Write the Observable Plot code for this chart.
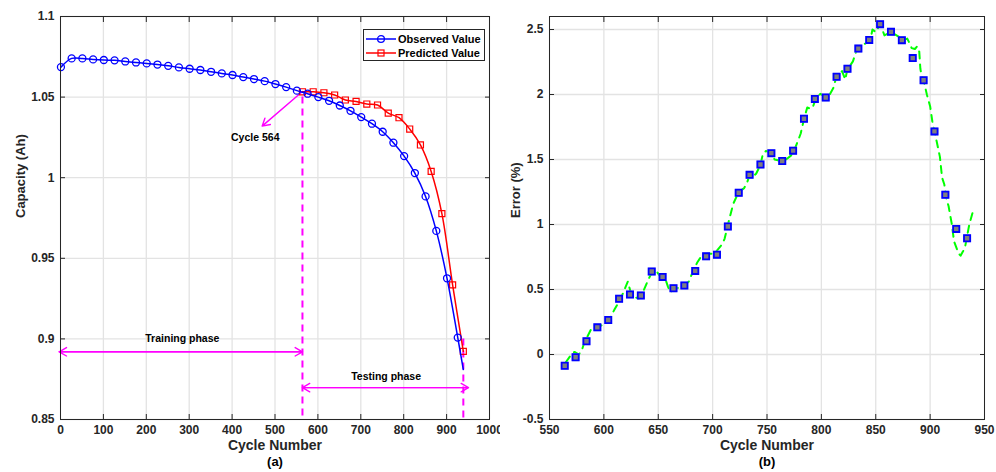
<!DOCTYPE html>
<html><head><meta charset="utf-8">
<script src="https://cdn.jsdelivr.net/npm/d3@7"></script>
<script src="https://cdn.jsdelivr.net/npm/@observablehq/plot@0.6"></script>
<style>
body{margin:0;background:#fff;font-family:"Liberation Sans",Arial,sans-serif;}
#wrap{position:relative;width:996px;height:472px;overflow:hidden;background:#fff}
#left{position:absolute;left:0;top:0;}
#right{position:absolute;left:500px;top:0;}
#left svg,#right svg{overflow:visible}
.legend{position:absolute;left:363px;top:29px;width:122px;height:32px;border:1px solid #262626;background:#fff;font-weight:bold;font-size:11px;color:#000;box-sizing:border-box;padding-top:2px;white-space:nowrap;overflow:visible}
.legend .row{display:flex;align-items:center;height:14px;white-space:nowrap}
.legend svg{margin-right:1px;flex:none}
</style></head>
<body><div id="wrap"><div id="left"></div><div id="right"></div>
<div class="legend">
 <div class="row"><svg width="33" height="12"><line x1="2" x2="32" y1="6" y2="6" stroke="#0000ff" stroke-width="1.5"/><circle cx="17" cy="6" r="3.4" fill="none" stroke="#0000ff" stroke-width="1.3"/></svg><span>Observed Value</span></div>
 <div class="row"><svg width="33" height="12"><line x1="2" x2="32" y1="6" y2="6" stroke="#ff0000" stroke-width="1.5"/><rect x="14" y="3" width="6" height="6" fill="none" stroke="#ff0000" stroke-width="1.2"/></svg><span>Predicted Value</span></div>
</div>
</div>
<script>
// ---------- data: panel (a) ----------
const obsCycles = [1,26,51,76,101,126,151,176,201,226,251,276,301,326,351,376,401,426,451,476,501,526,551,576,601,626,651,676,701,726,751,776,801,826,851,876,901,926];
const obsCap = [1.0686,1.0740,1.0740,1.0734,1.0730,1.0728,1.0721,1.0715,1.0709,1.0702,1.0694,1.0684,1.0676,1.0668,1.0657,1.0647,1.0637,1.0624,1.0612,1.0599,1.0581,1.0562,1.0540,1.0521,1.0500,1.0477,1.0448,1.0415,1.0376,1.0335,1.0285,1.0217,1.0134,1.0029,0.9884,0.9670,0.9376,0.9008];
const obsEndCycle = 939;
const obsEndCap = 0.881;
const predCycles = [564,589,614,639,664,689,714,739,764,789,814,839,864,889,914,939];
const predCap = [1.0533,1.0533,1.0527,1.0513,1.0482,1.0473,1.0457,1.0451,1.0401,1.0372,1.0302,1.0203,1.0039,0.9777,0.9335,0.8923];
const xTicksA = [0,100,200,300,400,500,600,700,800,900,1000];
const yTicksA = [0.85,0.9,0.95,1,1.05,1.1];
// annotations (a)
const dashX = [564, 939];
const dashTop = [1.05, 0.90];
const arrowX1 = [564, 564, -3, 564, 951];
const arrowY1 = [1.0535, 0.892, 0.892, 0.8698, 0.8698];
const arrowX2 = [470, -3, 564, 951, 564];
const arrowY2 = [1.032, 0.892, 0.892, 0.8698, 0.8698];
const noteText = ["Cycle 564", "Training phase", "Testing phase"];
const noteX = [454, 284, 759];
const noteY = [1.025, 0.9004, 0.8766];

// ---------- data: panel (b) ----------
const errCycles = [564,574,584,594,604,614,624,634,644,654,664,674,684,694,704,714,724,734,744,754,764,774,784,794,804,814,824,834,844,854,864,874,884,894,904,914,924,934];
const errVal = [-0.087,-0.021,0.102,0.209,0.265,0.429,0.462,0.454,0.638,0.597,0.510,0.531,0.643,0.755,0.768,0.985,1.244,1.382,1.462,1.549,1.488,1.568,1.814,1.966,1.977,2.136,2.198,2.353,2.420,2.541,2.482,2.418,2.280,2.110,1.716,1.229,0.966,0.894];
const greenCycles = [565,570,573,577,580,582,588,592,597,601,605,610,615,618,622,625,629,632,635,640,644,648,651,654,657,659,661,667,672,678,683,686,690,695,700,703,709,711,715,719,724,729,732,734,737,740,744,746,749,754,757,762,766,769,772,775,779,781,784,787,790,792,795,799,804,807,811,814,817,819,822,824,827,829,832,834,838,841,845,847,850,854,856,858,864,868,872,876,879,881,883,886,888,890,891,892,894,897,900,902,904,906,909,911,913,915,917,920,922,926,928,930,932,936,939];
const greenVal = [-0.06,0.00,0.02,0.00,0.04,0.09,0.19,0.225,0.22,0.24,0.27,0.35,0.42,0.48,0.56,0.47,0.44,0.43,0.46,0.56,0.63,0.645,0.61,0.60,0.57,0.52,0.48,0.51,0.52,0.56,0.66,0.71,0.76,0.775,0.775,0.79,0.85,0.89,1.03,1.16,1.25,1.28,1.33,1.38,1.37,1.39,1.46,1.535,1.566,1.55,1.50,1.49,1.49,1.51,1.53,1.57,1.655,1.70,1.81,1.90,1.89,1.90,1.97,2.005,1.98,1.99,2.05,2.14,2.16,2.18,2.115,2.20,2.23,2.255,2.33,2.355,2.38,2.395,2.42,2.50,2.48,2.54,2.50,2.455,2.48,2.46,2.44,2.42,2.43,2.395,2.357,2.35,2.37,2.33,2.20,2.15,2.11,2.0,1.91,1.795,1.716,1.64,1.52,1.36,1.31,1.20,1.14,1.0,0.87,0.78,0.76,0.79,0.82,1.0,1.09];
const xTicksB = [550,600,650,700,750,800,850,900,950];
const yTicksB = [-0.5,0,0.5,1,1.5,2,2.5];

// ---------- build ----------
const FONT = "'Liberation Sans', Arial, sans-serif";
const fmt = d => String(+(+d).toFixed(2));
const gridStyle = {stroke: "#e3e3e3", strokeOpacity: 1, strokeWidth: 1.3};
const tickLbl = {tickSize: -5, tickPadding: 11, tickFormat: fmt, label: null, fontSize: 12, fontWeight: "bold", color: "#262626"};
const tickOnly = {tickSize: -5, tickFormat: () => "", label: null, color: "#262626"};

function frameAxes(xt, yt) {
  return [
    Plot.gridX(xt, gridStyle),
    Plot.gridY(yt, gridStyle),
    Plot.axisX(xt, {anchor: "bottom", ...tickLbl}),
    Plot.axisX(xt, {anchor: "top", ...tickOnly}),
    Plot.axisY(yt, {anchor: "left", ...tickLbl}),
    Plot.axisY(yt, {anchor: "right", ...tickOnly}),
  ];
}
function labels(xl, sub, yl, ydx) {
  return [
    Plot.text([xl], {frameAnchor: "bottom", dy: 30, text: d => d, fontSize: 14, fontWeight: "bold", fill: "#262626"}),
    Plot.text([sub], {frameAnchor: "bottom", dy: 46, text: d => d, fontSize: 13, fontWeight: "bold", fill: "#000"}),
    Plot.text([yl], {frameAnchor: "left", dx: ydx, rotate: -90, text: d => d, fontSize: 13, fontWeight: "bold", fill: "#262626"}),
  ];
}

const obsLine = obsCycles.map((c, i) => ({c, v: obsCap[i]})).concat([{c: obsEndCycle, v: obsEndCap}]);
const obs = obsCycles.map((c, i) => ({c, v: obsCap[i]}));
const pred = predCycles.map((c, i) => ({c, v: predCap[i]}));
const dashes = dashX.map((x, i) => ({x, top: dashTop[i], bottom: yTicksA[0]}));
const arrows = arrowX1.map((x1, i) => ({x1, y1: arrowY1[i], x2: arrowX2[i], y2: arrowY2[i]}));
const notes = noteText.map((t, i) => ({t, x: noteX[i], y: noteY[i]}));

const left = Plot.plot({
  width: 500, height: 472,
  marginLeft: 60, marginRight: 11, marginTop: 16, marginBottom: 53,
  style: {fontFamily: FONT, background: "white", overflow: "visible"},
  x: {domain: [0, 1000]},
  y: {domain: [0.85, 1.1]},
  marks: [
    ...frameAxes(xTicksA, yTicksA),
    Plot.ruleX(dashes, {x: "x", y1: "top", y2: "bottom", stroke: "#ff00ff", strokeWidth: 2, strokeDasharray: "7,5"}),
    Plot.arrow(arrows, {x1: "x1", y1: "y1", x2: "x2", y2: "y2", stroke: "#ff00ff", strokeWidth: 1.4, headLength: 9}),
    Plot.text(notes, {x: "x", y: "y", text: "t", fontSize: 10.5, fontWeight: "bold", fill: "#000"}),
    Plot.line(pred, {x: "c", y: "v", stroke: "#ff0000", strokeWidth: 1.5, curve: "catmull-rom"}),
    Plot.dot(pred, {x: "c", y: "v", symbol: "square", r: 3.4, stroke: "#ff0000", strokeWidth: 1.2, fill: "none"}),
    Plot.line(obsLine, {x: "c", y: "v", stroke: "#0000ff", strokeWidth: 1.5, curve: "catmull-rom"}),
    Plot.dot(obs, {x: "c", y: "v", symbol: "circle", r: 3.5, stroke: "#0000ff", strokeWidth: 1.3, fill: "none"}),
    Plot.frame({stroke: "#262626", strokeWidth: 1}),
    ...labels("Cycle Number", "(a)", "Capacity (Ah)", -40)
  ]
});
document.getElementById("left").append(left);

const err = errCycles.map((c, i) => ({c, v: errVal[i]}));
const green = greenCycles.map((c, i) => ({c, v: greenVal[i]}));
const right = Plot.plot({
  width: 496, height: 472,
  marginLeft: 49, marginRight: 12, marginTop: 16, marginBottom: 53,
  style: {fontFamily: FONT, background: "white", overflow: "visible"},
  x: {domain: [550, 950]},
  y: {domain: [-0.5, 2.6]},
  marks: [
    ...frameAxes(xTicksB, yTicksB),
    Plot.line(green, {x: "c", y: "v", stroke: "#00ff00", strokeWidth: 2, strokeDasharray: "7,6"}),
    Plot.dot(err, {x: "c", y: "v", symbol: "square", r: 4.4, fill: "#a8a8ff", stroke: "none"}),
    Plot.dot(err, {x: "c", y: "v", symbol: "square", r: 3.5, fill: "#7f7f7f", stroke: "#0000ff", strokeWidth: 1.8}),
    Plot.frame({stroke: "#262626", strokeWidth: 1}),
    ...labels("Cycle Number", "(b)", "Error (%)", -34)
  ]
});
document.getElementById("right").append(right);
</script>
</body></html>
